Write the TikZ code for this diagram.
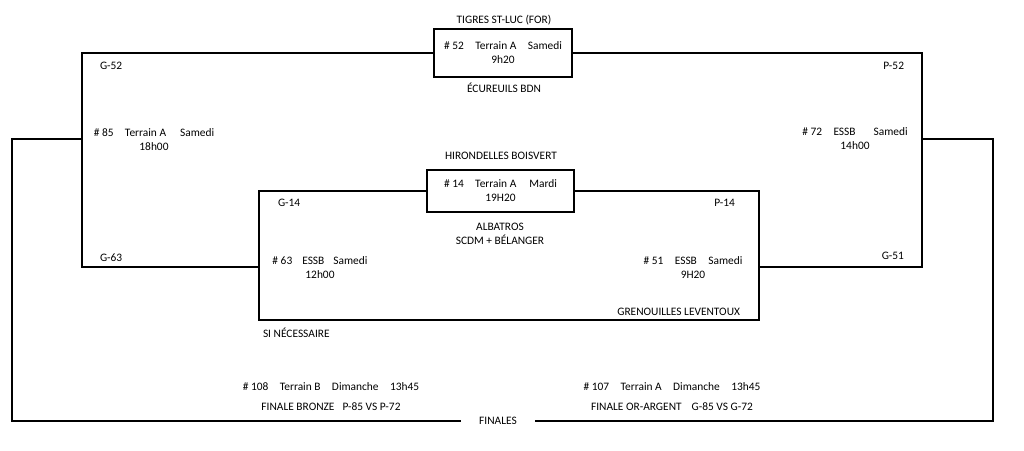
\documentclass[tikz,border=0pt]{standalone}
\usepackage{fontspec}
\setmainfont{Carlito}
\begin{document}
\begin{tikzpicture}[x=1pt,y=-1pt,
  lbl/.style={text=drawColor,inner sep=0pt,outer sep=0pt,font=\fontsize{11.4}{14}\selectfont},
  game/.style={lbl,align=center},
  matchbox/.style={game,draw=drawColor,line width=1.1pt,fill=fillColor},
  wire/.style={draw=drawColor,line width=1.5pt,line join=miter}]
\definecolor{fillColor}{RGB}{255,255,255}
\definecolor{drawColor}{RGB}{0,0,0}
\path[use as bounding box,fill=fillColor] (0,0) rectangle (1024,450);

% corners of the bracket
\coordinate (gb) at ( 82,267);
\coordinate (pb) at (922,267);
\coordinate (dl) at ( 82,139);
\coordinate (dr) at (922,139);
\coordinate (fl) at ( 12,139);
\coordinate (fr) at (993,139);
\coordinate (s63) at (259,267);
\coordinate (s51) at (759,267);
\coordinate (ibl) at (259,320);
\coordinate (ibr) at (759,320);

% matches
\node[matchbox,minimum width=138,minimum height=48] (m52) at (503,53) {\# 52\quad Terrain A\quad Samedi\\9h20};
\node[matchbox,minimum width=147,minimum height=42] (m14) at (500.5,191) {\# 14\quad Terrain A\hspace{13pt}Mardi\\19H20};
\node[game] (m85) at (154,139.5) {\# 85\quad Terrain A\hspace{14pt}Samedi\\18h00};
\node[game] (m72) at (855,138.5) {\# 72\quad ESSB\hspace{18pt}Samedi\\14h00};
\node[game] (m63) at (320,268) {\# 63\hspace{10pt}ESSB\hspace{9pt}Samedi\\12h00};
\node[game] (m51) at (693,268) {\# 51\quad ESSB\quad Samedi\\9H20};
\node[lbl,inner xsep=18pt] (fin) at (498,421) {FINALES};

% teams and results
\node[lbl] (t52) at (504,20) {TIGRES ST-LUC (FOR)};
\node[lbl] (b52) at (504,88) {ÉCUREUILS BDN};
\node[lbl,anchor=west] (g52) at (100,66) {G-52};
\node[lbl,anchor=east] (p52) at (904,66) {P-52};
\node[lbl,anchor=west] (g63) at (100,258) {G-63};
\node[lbl,anchor=east] (g51) at (904,256) {G-51};
\node[lbl] (t14) at (501,156) {HIRONDELLES BOISVERT};
\node[lbl,anchor=west] (g14) at (278,203) {G-14};
\node[lbl,anchor=east] (p14) at (735,203) {P-14};
\node[game] (b14) at (500,234) {ALBATROS\\SCDM + BÉLANGER};
\node[lbl,anchor=east] (b51) at (740,312) {GRENOUILLES LEVENTOUX};
\node[lbl,anchor=west] (sn) at (263,333) {SI NÉCESSAIRE};

% finals
\node[lbl] (m108) at (331,387) {\# 108\quad Terrain B\quad Dimanche\quad 13h45};
\node[lbl] (f108) at (331,407) {FINALE BRONZE\hspace{8pt}P-85 VS P-72};
\node[lbl] (m107) at (672,387) {\# 107\quad Terrain A\quad Dimanche\quad 13h45};
\node[lbl] (f107) at (672,407) {FINALE OR-ARGENT\hspace{10pt}G-85 VS G-72};

% bracket lines
\path[wire] (m52.west) -| (gb) -- (s63);
\path[wire] (m52.east) -| (pb) -- (s51);
\path[wire] (m14.west) -| (ibl) -- (ibr) |- (m14.east);
\path[wire] (dl) -- (fl) |- (fin.west);
\path[wire] (dr) -- (fr) |- (fin.east);
\end{tikzpicture}
\end{document}
